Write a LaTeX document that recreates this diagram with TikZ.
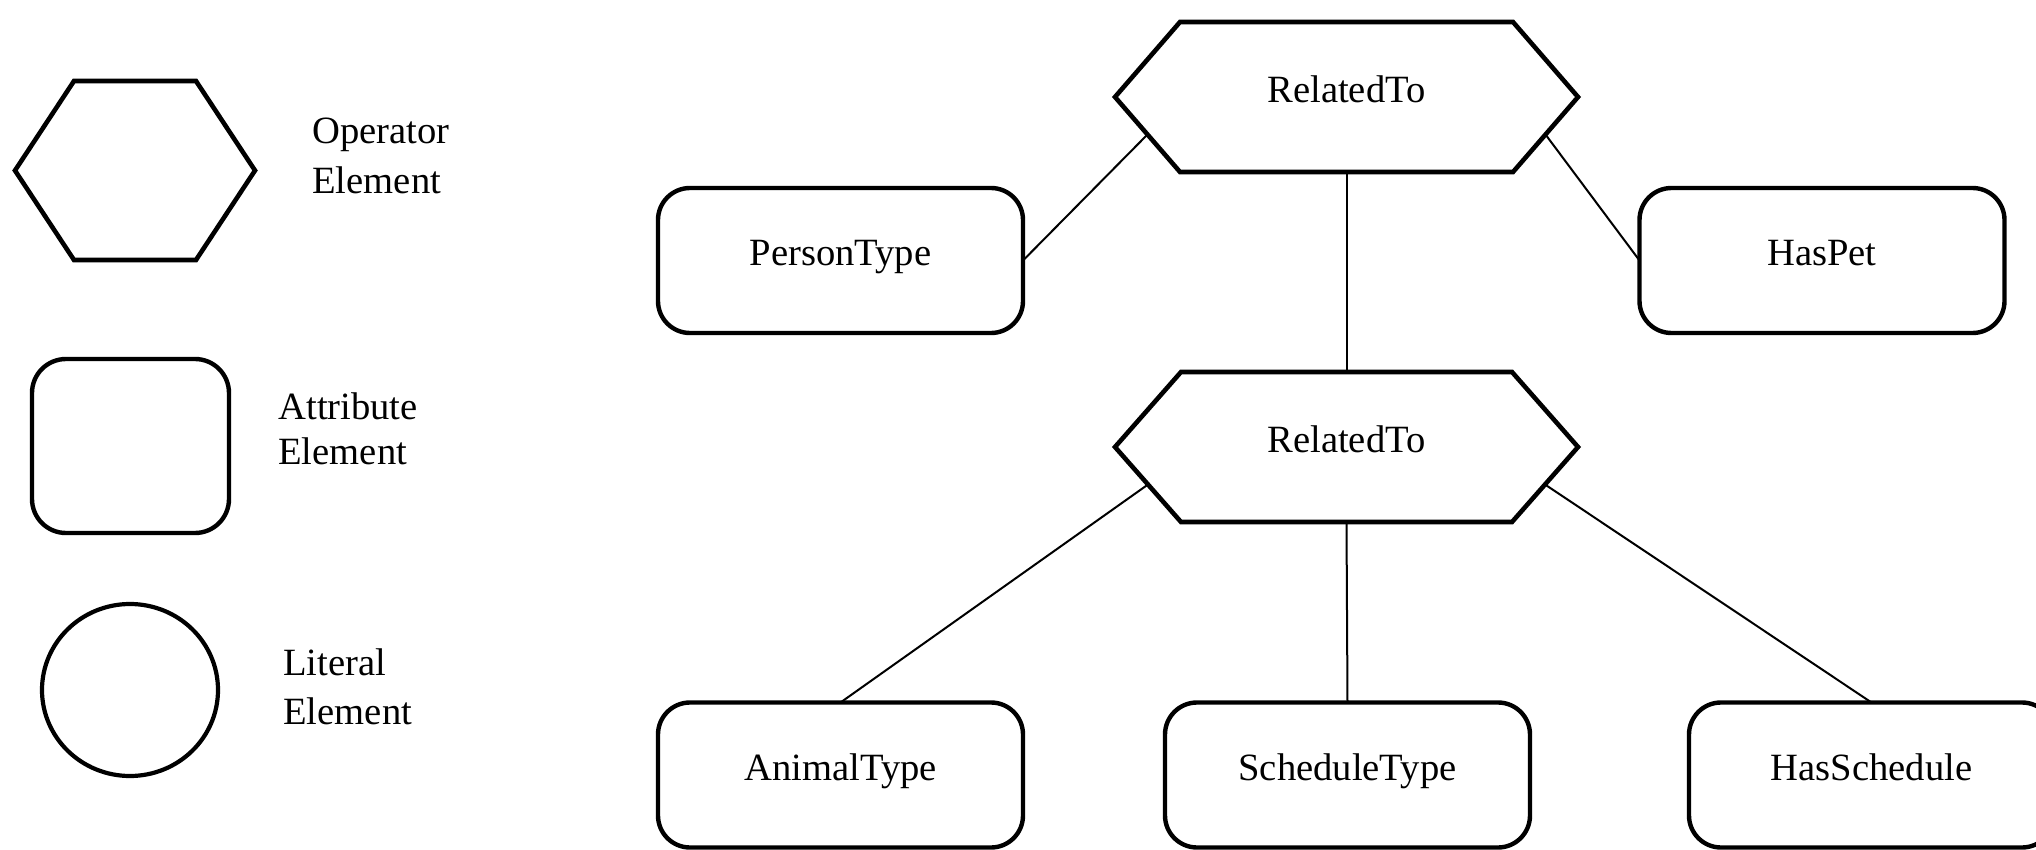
\documentclass[tikz,border=0pt]{standalone}
\usepackage{fontspec}
\setmainfont{Liberation Serif}
\usetikzlibrary{calc,shapes.geometric}

\tikzset{
  every node/.style={font=\fontsize{19.3pt}{17pt}\selectfont, text=black},
  boxtext/.style={text height=0.74em, text depth=0.2em},
  hexslot/.style={boxtext, draw=none, inner sep=0pt, outer sep=0pt},
  hexline/.style={draw=black, line width=2.3pt, line join=miter},
  attrbox/.style={boxtext, draw=black, line width=2.2pt, rounded corners=16pt,
    inner sep=0pt, outer sep=0pt, minimum width=182.5pt, minimum height=72.5pt},
  litbox/.style={draw=black, line width=2.1pt, ellipse, inner sep=0pt,
    outer sep=0pt, minimum width=88pt, minimum height=86pt},
  legendtext/.style={align=left, anchor=west, inner sep=0pt},
  link/.style={draw=black, line width=1pt},
}

% hexagon outline around an invisible node; #2 = horizontal run of the slanted sides
\newcommand{\hexframe}[2]{%
  \draw[hexline] (#1.west) -- ([xshift=#2]#1.north west) -- ([xshift=-#2]#1.north east)
    -- (#1.east) -- ([xshift=-#2]#1.south east) -- ([xshift=#2]#1.south west) -- cycle;
  \coordinate (#1-ll) at ($(#1.west)!0.5!([xshift=#2]#1.south west)$);
  \coordinate (#1-lr) at ($(#1.east)!0.5!([xshift=-#2]#1.south east)$);
}

\begin{document}
\begin{tikzpicture}[x=0.5pt, y=-0.5pt]
  \clip (0,0) rectangle (2036,850);
  \fill[white] (0,0) rectangle (2036,850);

  % legend
  \node[hexslot, minimum width=120pt, minimum height=89.5pt] (keyop) at (135,170.5) {};
  \hexframe{keyop}{29.5pt}
  \node[legendtext, font=\fontsize{19.3pt}{25pt}\selectfont] (keyoptext) at (312,156)
    {Operator\\Element};

  \node[attrbox, rounded corners=17pt, minimum width=98.5pt, minimum height=87pt]
    (keyattr) at (130.5,446) {};
  \node[legendtext, font=\fontsize{19.3pt}{22.5pt}\selectfont] (keyattrtext) at (278,428.5)
    {Attribute\\Element};

  \node[litbox] (keylit) at (130,690) {};
  \node[legendtext, font=\fontsize{19.3pt}{24.5pt}\selectfont] (keylittext) at (283,686.5)
    {Literal\\Element};

  % operator elements
  \node[hexslot, minimum width=231.5pt, minimum height=75pt] (relA) at (1346.5,97) {RelatedTo};
  \hexframe{relA}{32.5pt}
  \node[hexslot, minimum width=231.5pt, minimum height=75pt] (relB) at (1346.5,447) {RelatedTo};
  \hexframe{relB}{33pt}

  % attribute elements
  \node[attrbox] (person) at (840.5,260.5) {PersonType};
  \node[attrbox] (haspet) at (1822,260.5) {HasPet};
  \node[attrbox] (animal) at (840.5,775) {AnimalType};
  \node[attrbox] (schedtype) at (1347.5,775) {ScheduleType};
  \node[attrbox] (hassched) at (1871.5,775) {HasSchedule};

  % connectors
  \draw[link] (relA-ll) -- (person.east);
  \draw[link] (relA-lr) -- (haspet.west);
  \draw[link] (relA.south) -- (relB.north);
  \draw[link] (relB-ll) -- (animal.north);
  \draw[link] (relB.south) -- (schedtype.north);
  \draw[link] (relB-lr) -- (hassched.north);
\end{tikzpicture}
\end{document}
